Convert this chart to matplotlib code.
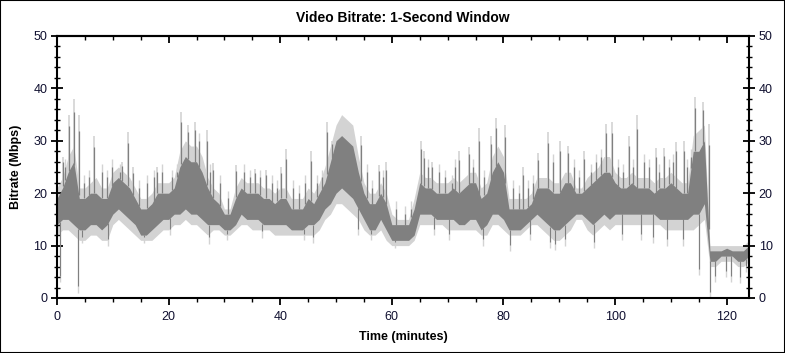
import numpy as np
import matplotlib
matplotlib.use("Agg")
import matplotlib.pyplot as plt
from matplotlib.ticker import MultipleLocator, NullFormatter
from matplotlib.patches import Rectangle

plt.rcParams['font.family'] = ['Liberation Sans', 'DejaVu Sans']

# ---- data (1-minute resolution) ----
minutes = list(range(0, 125))
dark_lo = [14, 15, 15, 14, 13, 13, 14, 14, 13, 14,
           16, 17, 16, 15, 14, 12, 12, 13, 14, 15,
           15, 16, 16, 17, 16, 16, 15, 14, 14, 14,
           13, 13, 14, 16, 15, 15, 15, 14, 14, 14,
           14, 14, 13, 13, 13, 14, 14, 15, 17, 18,
           20, 21, 20, 19, 17, 15, 13, 13, 15, 13,
           11, 11, 11, 11, 12, 16, 16, 16, 15, 15,
           15, 15, 14, 14, 15, 15, 13, 14, 16, 16,
           15, 13, 13, 13, 14, 15, 16, 15, 14, 13,
           13, 14, 15, 16, 16, 15, 14, 15, 16, 15,
           16, 16, 16, 16, 16, 16, 16, 16, 15, 15,
           15, 15, 15, 15, 16, 16, 18, 7, 7, 8,
           8, 8, 7, 7, 8]
dark_hi = [19, 21, 24, 26, 19, 19, 20, 20, 19, 19,
           22, 23, 22, 21, 19, 17, 17, 18, 20, 20,
           20, 21, 25, 27, 26, 26, 24, 21, 19, 18,
           16, 16, 19, 21, 20, 20, 20, 19, 19, 18,
           19, 19, 17, 17, 17, 19, 18, 20, 22, 26,
           30, 31, 30, 29, 24, 20, 18, 18, 20, 18,
           14, 14, 14, 14, 17, 22, 21, 21, 20, 20,
           20, 21, 20, 21, 22, 22, 19, 20, 24, 26,
           24, 17, 17, 17, 17, 18, 21, 21, 21, 20,
           20, 22, 22, 20, 20, 21, 22, 23, 24, 24,
           22, 21, 21, 22, 21, 21, 21, 20, 21, 21,
           22, 21, 20, 20, 28, 28, 30, 9, 9, 9,
           9.5, 9, 9, 9, 10]
light_lo = [12, 13, 13, 12, 11, 11, 12, 12, 11, 11,
            14, 15, 14, 13, 12, 11, 11, 11, 12, 13,
            13, 14, 14, 15, 14, 14, 13, 12, 13, 13,
            12, 12, 13, 14, 14, 13, 13, 13, 13, 12,
            12, 12, 12, 12, 12, 12, 12, 13, 15, 16,
            18, 18, 17, 16, 15, 13, 12, 12, 13, 11,
            10, 10, 10, 10, 11, 14, 14, 14, 14, 14,
            13, 13, 13, 13, 13, 13, 12, 12, 14, 14,
            13, 12, 12, 12, 13, 14, 14, 13, 12, 11,
            11, 12, 13, 15, 15, 13, 12, 13, 14, 13,
            14, 14, 14, 14, 14, 14, 14, 14, 14, 13,
            13, 13, 13, 13, 13, 14, 15, 6, 6, 7,
            7, 7, 6, 6, 7]
light_hi = [21, 23, 27, 29, 21, 21, 22, 23, 21, 21,
            24, 25, 24, 23, 21, 19, 19, 20, 22, 22,
            22, 23, 28, 30, 29, 29, 27, 23, 21, 20,
            17, 17, 21, 23, 22, 22, 22, 21, 21, 20,
            21, 21, 19, 19, 19, 21, 20, 22, 25, 29,
            33, 35, 34, 33, 27, 22, 20, 20, 22, 20,
            16, 15, 15, 15, 19, 24, 23, 23, 22, 22,
            22, 23, 22, 23, 24, 24, 21, 22, 27, 29,
            27, 19, 19, 19, 19, 20, 23, 23, 23, 22,
            22, 24, 24, 21, 21, 23, 24, 25, 27, 27,
            24, 23, 23, 24, 23, 23, 23, 22, 23, 23,
            24, 23, 22, 22, 31, 32, 33, 10, 10, 10,
            10, 10, 10, 10, 11]

# tall upward peaks (light tip, dark body)
peak_t = [1.1, 2.1, 3.1, 3.9, 6.7, 11.6, 12.7, 13.7, 18.0, 22.3,
          23.5, 24.7, 26.8, 28.0, 32.1, 35.4, 37.5, 40.2, 41.0, 45.5,
          48.4, 49.2, 54.4, 57.7, 59.0, 65.2, 65.7, 67.2, 72.0, 73.8,
          75.7, 77.7, 78.6, 80.3, 83.5, 86.2, 87.9, 90.1, 91.6, 94.5,
          98.4, 99.5, 102.5, 104.0, 107.3, 108.8, 111.0, 112.4, 114.4, 115.7,
          116.8]
peak_v = [27, 35, 38, 35, 31, 26, 31.7, 25, 25, 35.5,
          33, 33.5, 32, 25.7, 25.4, 24.7, 24.5, 25, 28.5, 28,
          33.6, 30, 31, 25.4, 26, 30, 28, 26, 28, 28.9,
          32.4, 31, 34.3, 33, 25, 27.6, 31.7, 30, 29, 28,
          33.3, 33.6, 31, 35, 28.6, 28.6, 29.8, 30, 38.4, 37.5,
          33.3]
# smaller dark jags above the band
jag_t = [1.5, 4.8, 5.7, 8.0, 9.0, 9.8, 11.3, 14.7, 16.1, 17.3,
         18.8, 20.6, 21.5, 25.5, 27.5, 29.2, 30.6, 33.5, 34.5, 36.3,
         38.6, 39.5, 42.2, 43.4, 44.5, 46.6, 47.4, 55.5, 56.5, 58.4,
         60.8, 62.3, 63.5, 66.5, 68.4, 69.5, 70.7, 71.3, 74.6, 76.6,
         81.8, 82.7, 84.4, 85.3, 88.8, 92.7, 93.6, 95.6, 96.5, 97.4,
         100.6, 101.5, 103.3, 105.2, 106.1, 107.9, 109.7, 110.4, 112.9, 113.6]
jag_v = [25, 22, 23, 24, 23, 25, 24, 21, 22, 23,
         24, 23, 24, 30, 24, 22, 19, 24, 23, 23,
         22, 21, 21, 20, 22, 22, 23, 24, 21, 23,
         17, 16, 17, 25, 24, 23, 22, 25, 25, 23,
         21, 20, 21, 22, 26, 25, 23, 24, 26, 27,
         25, 24, 25, 26, 25, 24, 25, 26, 25, 27]
# downward dips
dip_t = [0.5, 3.8, 4.5, 9.2, 15.5, 20.3, 27.2, 30.4, 36.8, 44.2,
         45.8, 53.9, 56.2, 60.5, 67.5, 70.2, 76.3, 81.2, 84.8, 88.4,
         89.3, 91.0, 96.2, 101.2, 104.6, 106.8, 109.3, 112.1, 115.0, 117.0,
         117.9, 119.9, 120.8, 122.3, 123.5]
dip_v = [3, 1, 10.5, 10, 10.5, 12, 10.4, 11, 11.5, 11,
         10.5, 12, 11, 9.5, 12, 11, 10, 9, 11, 9.5,
         9.2, 10, 9.5, 11, 11, 10.5, 10, 10, 4.4, 0,
         3, 4, 3, 2.8, 5]

DARK = '#808080'
LIGHT = '#d3d3d3'

fig = plt.figure(figsize=(7.85, 3.53), dpi=100)
ax = fig.add_axes([57/785, 1-298/353, (749-57)/785, (298-36)/353])

t = np.array(minutes, dtype=float)
ax.fill_between(t, light_lo, light_hi, color=LIGHT, lw=0, zorder=1)

base_hi = np.interp(peak_t, t, dark_hi)
ax.vlines(peak_t, base_hi, peak_v, color=LIGHT, lw=1.2, zorder=1)
dark_peak = [b + 0.8 * (p - b) for b, p in zip(base_hi, peak_v)]
ax.vlines(peak_t, base_hi, dark_peak, color=DARK, lw=0.9, zorder=3)

jag_base = np.interp(jag_t, t, dark_hi)
ax.vlines(jag_t, jag_base, [v + 1.5 for v in jag_v], color=LIGHT, lw=1.0, zorder=1)
ax.vlines(jag_t, jag_base, jag_v, color=DARK, lw=0.9, zorder=3)

base_lo = np.interp(dip_t, t, dark_lo)
ax.vlines(dip_t, dip_v, base_lo, color=LIGHT, lw=1.0, zorder=1)
ax.vlines(dip_t, [v + 1.2 for v in dip_v], base_lo, color=DARK, lw=0.8, zorder=3)

ax.fill_between(t, dark_lo, dark_hi, color=DARK, lw=0, zorder=2)

ax.set_xlim(0, 124)
ax.set_ylim(0, 50)

ax.xaxis.set_major_locator(MultipleLocator(20))
ax.xaxis.set_minor_locator(MultipleLocator(5))
ax.yaxis.set_major_locator(MultipleLocator(10))
ax.yaxis.set_minor_locator(MultipleLocator(2))

ax.tick_params(axis='both', which='both', labelsize=9, colors='black',
               labelcolor='#101030')
ax.tick_params(axis='y', which='major', direction='inout', length=8, width=1.3,
               left=True, right=True, labelleft=True, labelright=True, pad=3)
ax.tick_params(axis='y', which='minor', direction='inout', length=5, width=1.0,
               left=True, right=True)
ax.tick_params(axis='x', which='major', direction='out', length=5, width=1.3,
               bottom=True, top=False, pad=4)
ax.tick_params(axis='x', which='minor', direction='out', length=3, width=1.0,
               bottom=True, top=False)

top = ax.secondary_xaxis('top')
top.xaxis.set_major_locator(MultipleLocator(20))
top.xaxis.set_minor_locator(MultipleLocator(5))
top.xaxis.set_major_formatter(NullFormatter())
top.tick_params(which='major', direction='in', length=5, width=1.3)
top.tick_params(which='minor', direction='in', length=3, width=1.0)
top.spines['top'].set_linewidth(1.5)

for s in ax.spines.values():
    s.set_linewidth(1.5)

ax.set_xlabel('Time (minutes)', fontsize=9, fontweight='bold', labelpad=6)
ax.set_ylabel('Bitrate (Mbps)', fontsize=9, fontweight='bold', labelpad=8)
ax.set_title('Video Bitrate: 1-Second Window', fontsize=10, fontweight='bold', pad=10)

fig.patches.append(Rectangle((0, 0), 1, 1, transform=fig.transFigure,
                             fill=False, edgecolor='black', lw=1.5))

fig.savefig('out.png', dpi=100)
